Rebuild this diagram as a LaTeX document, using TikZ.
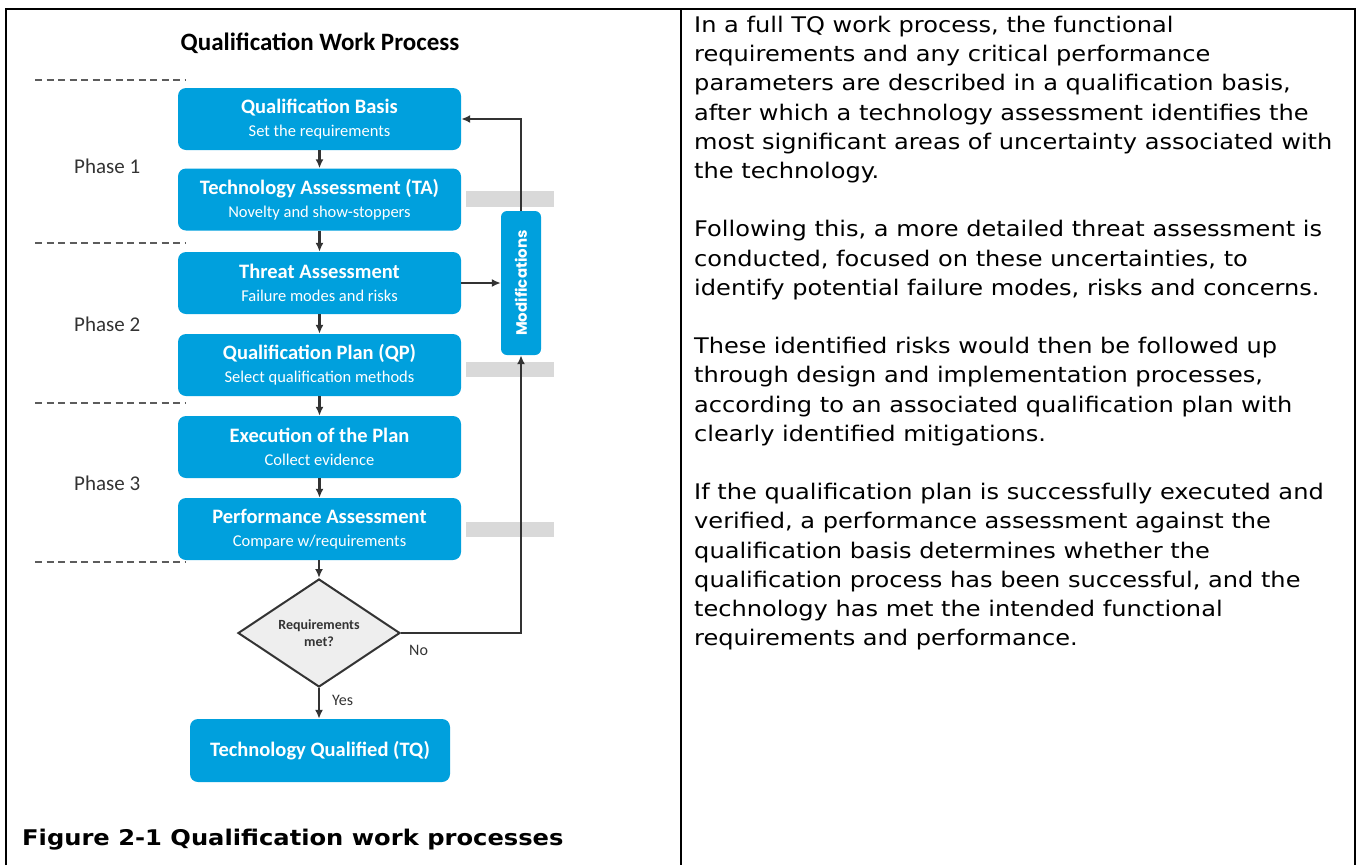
\documentclass[tikz,border=0pt]{standalone}
\usepackage{fontspec}
\setmainfont{DejaVu Sans}
\newfontfamily\calfont{Carlito}
\newfontfamily\bodyfont[FakeStretch=1.12]{DejaVu Sans}
\newfontfamily\modfont{Poppins}
\usetikzlibrary{shapes.geometric}
\usetikzlibrary{arrows.meta}

\definecolor{tqblue}{RGB}{0,160,221}
\definecolor{bandgray}{RGB}{217,217,217}
\definecolor{linegray}{RGB}{51,51,51}
\definecolor{diamondfill}{RGB}{238,238,238}

\newcommand{\boxhead}[1]{{\calfont\bfseries\fontsize{20.5}{23}\selectfont #1}}
\newcommand{\boxsub}[1]{{\calfont\fontsize{16.5}{23}\selectfont #1}}

\begin{document}
\begin{tikzpicture}[
      x=1pt, y=-1pt,
      frame_line/.style={line width=2pt, black},
      phase_line/.style={dashed, dash pattern=on 7pt off 4.5pt, line width=1.5pt, draw=linegray!80},
      gray_band/.style={fill=bandgray, draw=none},
      flow_box/.style={rectangle, rounded corners=8pt, fill=tqblue, draw=none, text=white,
        minimum width=283pt, minimum height=62pt, align=center, inner sep=0pt,
        font=\calfont\fontsize{16.5}{23}\selectfont},
      flow_arrow/.style={-{Latex[length=9pt,width=8pt]}, line width=2.2pt, draw=linegray},
      phase_label/.style={anchor=west, inner sep=0pt, text=linegray, font=\calfont\fontsize{21}{25}\selectfont},
      small_label/.style={anchor=west, inner sep=0pt, text=linegray, font=\calfont\fontsize{16}{19}\selectfont}
    ]

    \useasboundingbox (0,0) rectangle (1359,865);

    % ------------------------------------------------------------------ %
    % Table frame
    % ------------------------------------------------------------------ %

    \draw[frame_line] (6,865) -- (6,9) -- (1355,9) -- (1355,865);
    \draw[frame_line] (681,9) -- (681,865);

    % ------------------------------------------------------------------ %
    % Phases
    % ------------------------------------------------------------------ %

    \node[font=\calfont\bfseries\fontsize{25}{30}\selectfont] (chart_title) at (320,43) {Qualification Work Process};

    \draw[phase_line] (35,80) -- (185,80);
    \draw[phase_line] (35,243) -- (185,243);
    \draw[phase_line] (35,403) -- (185,403);
    \draw[phase_line] (35,562) -- (185,562);

    \node[phase_label] (phase_one) at (74,166) {Phase 1};
    \node[phase_label] (phase_two) at (74,324) {Phase 2};
    \node[phase_label] (phase_three) at (74,483) {Phase 3};

    % gray bands behind the feedback line
    \fill[gray_band] (466,191) rectangle (554,207);
    \fill[gray_band] (466,362) rectangle (554,377);
    \fill[gray_band] (466,522) rectangle (554,537);

    % ------------------------------------------------------------------ %
    % Process steps
    % ------------------------------------------------------------------ %

    \node[flow_box] (qual_basis) at (319.5,119) {\boxhead{Qualification Basis}\\\boxsub{Set the requirements}};
    \node[flow_box] (tech_assess) at (319.5,199.5) {\boxhead{Technology Assessment (TA)}\\\boxsub{Novelty and show-stoppers}};
    \node[flow_box] (threat_assess) at (319.5,283) {\boxhead{Threat Assessment}\\\boxsub{Failure modes and risks}};
    \node[flow_box] (qual_plan) at (319.5,365) {\boxhead{Qualification Plan (QP)}\\\boxsub{Select qualification methods}};
    \node[flow_box] (plan_exec) at (319.5,447) {\boxhead{Execution of the Plan}\\\boxsub{Collect evidence}};
    \node[flow_box] (perf_assess) at (319.5,529) {\boxhead{Performance Assessment}\\\boxsub{Compare w/requirements}};

    \node[diamond, aspect=1.5, draw=linegray, line width=2pt, fill=diamondfill, inner sep=0pt,
      minimum width=162pt, minimum height=108pt, align=center, text=linegray,
      font=\calfont\bfseries\fontsize{14}{17}\selectfont] (req_met) at (319,633) {Requirements\\met?};

    \node[flow_box, minimum width=260pt, minimum height=63pt] (tech_qual) at (320,750.5) {\boxhead{Technology Qualified (TQ)}};

    \node[rectangle, rounded corners=6pt, fill=tqblue, text=white, inner sep=0pt,
      minimum width=40pt, minimum height=144pt] (modif) at (521,283)
      {\rotatebox{90}{\modfont\bfseries\fontsize{15}{18}\selectfont Modifications}};

    % ------------------------------------------------------------------ %
    % Connectors
    % ------------------------------------------------------------------ %

    \draw[flow_arrow] (qual_basis) -- (tech_assess);
    \draw[flow_arrow] (tech_assess) -- (threat_assess);
    \draw[flow_arrow] (threat_assess) -- (qual_plan);
    \draw[flow_arrow] (qual_plan) -- (plan_exec);
    \draw[flow_arrow] (plan_exec) -- (perf_assess);
    \draw[flow_arrow] (perf_assess.south -| req_met.north) -- (req_met.north);
    \draw[flow_arrow] (req_met.south) -- (req_met.south |- tech_qual.north);
    \draw[flow_arrow] (threat_assess.east) -- (modif.west);
    \draw[flow_arrow] (req_met.east) -| (modif.south);
    \draw[flow_arrow] (modif.north) |- (qual_basis.east);

    \node[small_label] (no_label) at (409,650) {No};
    \node[small_label] (yes_label) at (332,700) {Yes};

    % ------------------------------------------------------------------ %
    % Caption and description
    % ------------------------------------------------------------------ %

    \node[anchor=west, inner sep=0pt, font=\bodyfont\bfseries\fontsize{21.6}{26}\selectfont] (fig_caption) at (22,840) {Figure 2-1 Qualification work processes};

    \node[anchor=north west, inner sep=0pt, align=left, font=\bodyfont\fontsize{21.5}{29.2}\selectfont] (body_text) at (694,16)
      {In a full TQ work process, the functional\\
       requirements and any critical performance\\
       parameters are described in a qualification basis,\\
       after which a technology assessment identifies the\\
       most significant areas of uncertainty associated with\\
       the technology.\\[29.2pt]
       Following this, a more detailed threat assessment is\\
       conducted, focused on these uncertainties, to\\
       identify potential failure modes, risks and concerns.\\[29.2pt]
       These identified risks would then be followed up\\
       through design and implementation processes,\\
       according to an associated qualification plan with\\
       clearly identified mitigations.\\[29.2pt]
       If the qualification plan is successfully executed and\\
       verified, a performance assessment against the\\
       qualification basis determines whether the\\
       qualification process has been successful, and the\\
       technology has met the intended functional\\
       requirements and performance.};

\end{tikzpicture}
\end{document}
